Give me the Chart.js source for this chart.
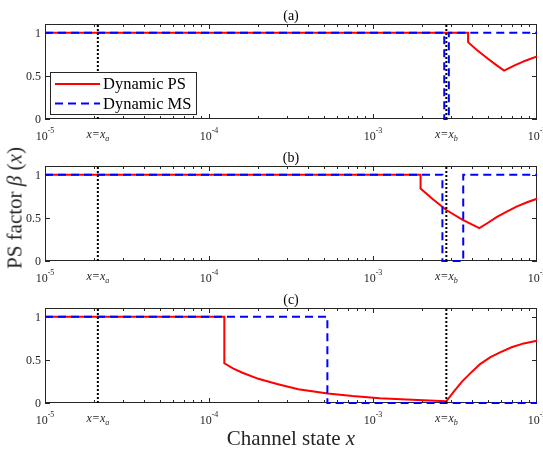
<!DOCTYPE html>
<html>
<head>
<meta charset="utf-8">
<script src="https://cdn.jsdelivr.net/npm/chart.js@4.4.1/dist/chart.umd.min.js"></script>
<style>
  body { margin: 0; background: #fff; }
  #wrap { position: relative; width: 543px; height: 454px; background: #fff; overflow: hidden; }
  .panel { position: absolute; left: 0; width: 543px; height: 145px; }
  .panel canvas { display: block; }
  #ylab, #xlab {
    position: absolute; white-space: nowrap; color: #262626;
    font-family: "Liberation Serif", "Times New Roman", serif; font-size: 21px;
  }
  #ylab { left: 15px; top: 208px; transform: translate(-50%, -50%) rotate(-90deg); }
  #xlab { left: 291px; top: 438px; transform: translate(-50%, -50%); }
</style>
</head>
<body>
<div id="wrap">
  <div class="panel" style="top:0px"><canvas id="chart-a" width="543" height="145"></canvas></div>
  <div class="panel" style="top:142px"><canvas id="chart-b" width="543" height="145"></canvas></div>
  <div class="panel" style="top:284px"><canvas id="chart-c" width="543" height="145"></canvas></div>
  <div id="ylab">PS factor <i>β</i> (<i>x</i>)</div>
  <div id="xlab">Channel state <i>x</i></div>
</div>
<script>
// Thresholds marked on the x axis
const X_A = 2.1e-5;
const X_B = 2.8e-3;

const panelTitles = ['(a)', '(b)', '(c)'];
const seriesNames = ['Dynamic PS', 'Dynamic MS'];

const yTickValues = [0, 0.5, 1];
const yTickLabels = ['0', '0.5', '1'];
const decadeValues = [1e-5, 1e-4, 1e-3, 1e-2];
const decadeExponents = ['-5', '-4', '-3', '-2'];
const markerValues = [X_A, X_B];
const markerSubscripts = ['a', 'b'];

// (a)
const psAx = [1e-5, 3.8e-3, 3.8e-3, 4.3e-3, 5.0e-3, 5.6e-3, 6.3e-3, 7.3e-3, 8.5e-3, 1e-2];
const psAy = [1, 1, 0.89, 0.80, 0.70, 0.63, 0.56, 0.62, 0.675, 0.725];
const msAx = [1e-5, 2.72e-3, 2.72e-3, 2.9e-3, 2.9e-3, 1e-2];
const msAy = [1, 1, 0, 0, 1, 1];

// (b)
const psBx = [1e-5, 1.95e-3, 1.95e-3, 2.3e-3, 2.8e-3, 3.5e-3, 4.45e-3, 5.0e-3, 5.7e-3, 6.5e-3, 7.5e-3, 8.7e-3, 1e-2];
const psBy = [1, 1, 0.84, 0.72, 0.59, 0.48, 0.38, 0.44, 0.51, 0.57, 0.63, 0.68, 0.72];
const msBx = [1e-5, 2.65e-3, 2.65e-3, 3.55e-3, 3.55e-3, 1e-2];
const msBy = [1, 1, 0, 0, 1, 1];

// (c)
const psCx = [1e-5, 1.24e-4, 1.24e-4, 1.4e-4, 1.6e-4, 2.0e-4, 2.6e-4, 3.5e-4, 5.3e-4, 7.5e-4, 1.1e-3, 1.6e-3, 2.2e-3, 2.8e-3,
  3.1e-3, 3.5e-3, 4.0e-3, 4.5e-3, 5.2e-3, 6.0e-3, 7.0e-3, 8.3e-3, 1e-2];
const psCy = [1, 1, 0.46, 0.40, 0.35, 0.28, 0.22, 0.16, 0.11, 0.08, 0.055, 0.04, 0.03, 0.02,
  0.13, 0.25, 0.36, 0.45, 0.53, 0.59, 0.645, 0.69, 0.72];
const msCx = [1e-5, 5.27e-4, 5.27e-4, 1e-2];
const msCy = [1, 1, 0, 0];

const Y_MAX = 1.1;
const FONT = '"Liberation Serif", "Times New Roman", serif';
const AXIS_COLOR = '#262626';

function points(xs, ys) {
  return xs.map((x, i) => ({ x, y: ys[i] }));
}

function markerLine(x) {
  return {
    data: [{ x, y: 0 }, { x, y: Y_MAX }],
    borderColor: '#000',
    borderWidth: 2,
    borderDash: [2, 2],
    order: -1,
  };
}

// MATLAB-like box axes: inward ticks, serif labels, panel title, optional legend
const matlabFrame = {
  id: 'matlabFrame',
  beforeDatasetsDraw(chart) {
    const { ctx, chartArea: a, scales } = chart;
    ctx.save();
    ctx.strokeStyle = AXIS_COLOR;
    ctx.lineWidth = 1;
    ctx.strokeRect(a.left + 0.5, a.top + 0.5, a.right - a.left - 1, a.bottom - a.top - 1);
    ctx.beginPath();
    // x ticks, decades and minor 2..9
    for (let e = -5; e <= -3; e += 1) {
      for (let m = 1; m <= 9; m += 1) {
        const v = m * Math.pow(10, e);
        const px = Math.round(scales.x.getPixelForValue(v)) + 0.5;
        const len = m === 1 ? 5 : 3;
        ctx.moveTo(px, a.bottom);
        ctx.lineTo(px, a.bottom - len);
        ctx.moveTo(px, a.top);
        ctx.lineTo(px, a.top + len);
      }
    }
    yTickValues.forEach((v) => {
      const py = Math.round(scales.y.getPixelForValue(v)) + 0.5;
      ctx.moveTo(a.left, py);
      ctx.lineTo(a.left + 5, py);
      ctx.moveTo(a.right, py);
      ctx.lineTo(a.right - 5, py);
    });
    ctx.stroke();
    ctx.restore();
  },
  afterDatasetsDraw(chart, _args, opts) {
    if (!opts.legend) return;
    const { ctx, chartArea: a } = chart;
    const box = { x: a.left + 5, y: 72, w: 147, h: 43 };
    ctx.save();
    ctx.fillStyle = '#fff';
    ctx.fillRect(box.x, box.y, box.w, box.h);
    ctx.strokeStyle = AXIS_COLOR;
    ctx.lineWidth = 1;
    ctx.strokeRect(box.x + 0.5, box.y + 0.5, box.w - 1, box.h - 1);
    const entries = chart.data.datasets.filter((d) => d.label);
    entries.forEach((d, i) => {
      const cy = box.y + 12 + i * 19.5;
      ctx.beginPath();
      ctx.strokeStyle = d.borderColor;
      ctx.lineWidth = d.borderWidth;
      ctx.setLineDash(d.borderDash || []);
      ctx.moveTo(box.x + 5, cy);
      ctx.lineTo(box.x + 50, cy);
      ctx.stroke();
      ctx.setLineDash([]);
      ctx.fillStyle = '#000';
      ctx.font = '16.5px ' + FONT;
      ctx.textBaseline = 'middle';
      ctx.fillText(d.label, box.x + 53, cy + 1);
    });
    ctx.restore();
  },
  afterDraw(chart, _args, opts) {
    const { ctx, chartArea: a, scales } = chart;
    ctx.save();
    ctx.fillStyle = AXIS_COLOR;
    // y tick labels
    ctx.font = '12px ' + FONT;
    ctx.textAlign = 'right';
    ctx.textBaseline = 'middle';
    yTickValues.forEach((v, i) => {
      ctx.fillText(yTickLabels[i], a.left - 4, scales.y.getPixelForValue(v) + 1);
    });
    // decade labels 10^k
    ctx.textAlign = 'left';
    ctx.textBaseline = 'alphabetic';
    decadeValues.forEach((v, i) => {
      const px = scales.x.getPixelForValue(v);
      ctx.font = '12px ' + FONT;
      const w1 = ctx.measureText('10').width;
      ctx.font = '8px ' + FONT;
      const w2 = ctx.measureText(decadeExponents[i]).width;
      const x0 = px - (w1 + w2) / 2;
      ctx.font = '12px ' + FONT;
      ctx.fillText('10', x0, a.bottom + 21);
      ctx.font = '8px ' + FONT;
      ctx.fillText(decadeExponents[i], x0 + w1, a.bottom + 14);
    });
    // x = x_a, x = x_b labels
    markerValues.forEach((v, i) => {
      const px = scales.x.getPixelForValue(v);
      ctx.font = 'italic 12px ' + FONT;
      const w1 = ctx.measureText('x=x').width;
      ctx.font = 'italic 8px ' + FONT;
      const w2 = ctx.measureText(markerSubscripts[i]).width;
      const x0 = px - (w1 + w2) / 2;
      ctx.font = 'italic 12px ' + FONT;
      ctx.fillText('x=x', x0, a.bottom + 19);
      ctx.font = 'italic 8px ' + FONT;
      ctx.fillText(markerSubscripts[i], x0 + w1, a.bottom + 22);
    });
    // panel title
    ctx.fillStyle = '#000';
    ctx.font = '14px ' + FONT;
    ctx.textAlign = 'center';
    ctx.textBaseline = 'middle';
    ctx.fillText(opts.title, (a.left + a.right) / 2, a.top - 8);
    ctx.restore();
  },
};

function makePanel(canvasId, title, ps, ms, showLegend) {
  return new Chart(document.getElementById(canvasId), {
    type: 'line',
    data: {
      datasets: [
        {
          label: seriesNames[0],
          data: ps,
          borderColor: '#ff0000',
          borderWidth: 2,
          order: 1,
        },
        {
          label: seriesNames[1],
          data: ms,
          borderColor: '#0000ff',
          borderWidth: 2,
          borderDash: [8, 5],
          order: 0,
        },
        markerLine(X_A),
        markerLine(X_B),
      ],
    },
    options: {
      responsive: false,
      animation: false,
      devicePixelRatio: 1,
      layout: { padding: { left: 45, right: 6, top: 24, bottom: 26 } },
      elements: {
        point: { radius: 0, hoverRadius: 0 },
        line: { tension: 0, fill: false },
      },
      datasets: { line: { clip: 4 } },
      scales: {
        x: { type: 'logarithmic', min: 1e-5, max: 1e-2, display: false },
        y: { type: 'linear', min: 0, max: Y_MAX, display: false },
      },
      plugins: {
        legend: { display: false },
        tooltip: { enabled: false },
        matlabFrame: { title, legend: showLegend },
      },
    },
    plugins: [matlabFrame],
  });
}

makePanel('chart-a', panelTitles[0], points(psAx, psAy), points(msAx, msAy), true);
makePanel('chart-b', panelTitles[1], points(psBx, psBy), points(msBx, msBy), false);
makePanel('chart-c', panelTitles[2], points(psCx, psCy), points(msCx, msCy), false);
</script>
</body>
</html>
